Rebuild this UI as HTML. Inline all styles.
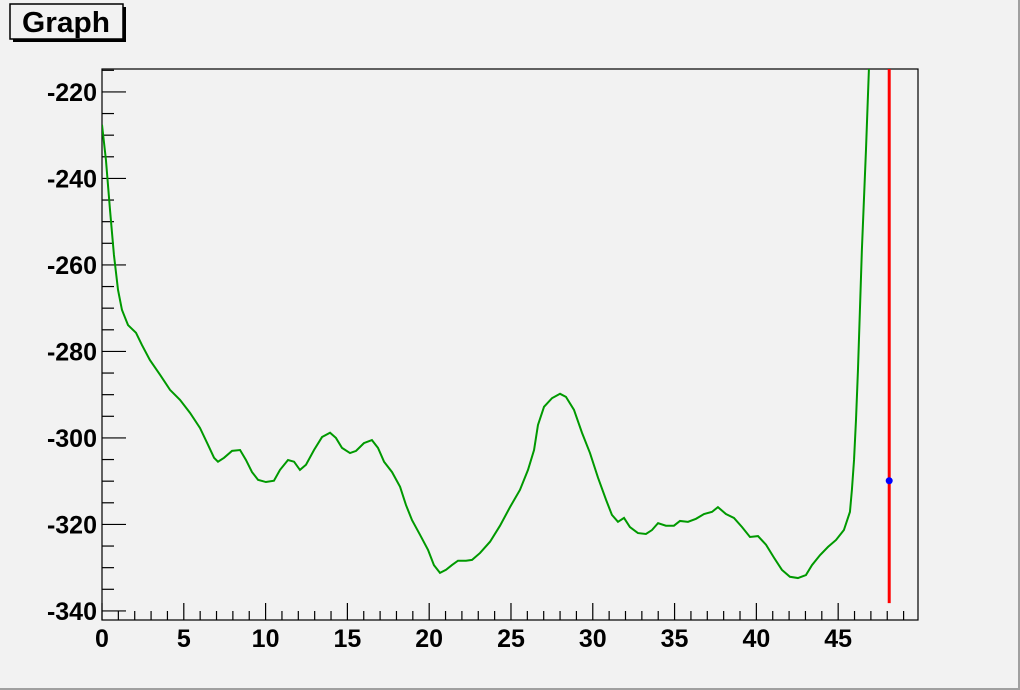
<!DOCTYPE html>
<html><head><meta charset="utf-8"><style>
body{margin:0;background:#f2f2f2;}
svg{display:block;font-family:"Liberation Sans",sans-serif;}
</style></head><body>
<svg id="c" width="1020" height="690">
<rect x="0" y="0" width="1020" height="690" fill="#f2f2f2"/>
<line x1="1019" y1="0" x2="1019" y2="690" stroke="#a0a0a0" stroke-width="2"/>
<line x1="0" y1="689" x2="1020" y2="689" stroke="#a0a0a0" stroke-width="2"/>
<g>
<rect x="13" y="7" width="113" height="35" fill="#000"/>
<rect x="10" y="4" width="113" height="35" fill="#f2f2f2" stroke="#000" stroke-width="1.5"/>
<text x="66" y="32" font-size="29" font-weight="bold" text-anchor="middle" textLength="88" lengthAdjust="spacingAndGlyphs">Graph</text>
</g>
<rect x="102" y="69" width="816" height="551" fill="none" stroke="#000" stroke-width="1.2"/>
<g id="axes"></g>
<g id="marks"></g>
</svg>
<script>
const xs=[0,0.24,0.49,0.73,0.98,1.22,1.59,2.08,2.44,2.93,3.55,4.16,4.77,5.38,5.99,6.48,6.85,7.09,7.46,7.95,8.44,8.80,9.17,9.54,10.02,10.51,10.88,11.37,11.74,12.10,12.47,12.96,13.45,13.94,14.30,14.67,15.16,15.53,16.01,16.50,16.87,17.24,17.73,18.22,18.58,18.95,19.44,19.93,20.29,20.66,21.03,21.39,21.76,22.25,22.62,23.11,23.72,24.33,24.94,25.55,26.04,26.41,26.65,27.02,27.51,28.00,28.36,28.85,29.34,29.83,30.32,30.81,31.17,31.54,31.91,32.27,32.76,33.25,33.62,33.99,34.47,34.96,35.33,35.82,36.31,36.80,37.29,37.65,38.14,38.63,39.12,39.61,40.10,40.59,41.08,41.56,42.05,42.54,43.03,43.40,43.89,44.38,44.87,45.35,45.72,45.84,45.97,46.09,46.21,46.33,46.45,46.70,46.88];
const ys=[-227.6,-235.7,-247.3,-257.7,-265.8,-270.4,-273.9,-275.7,-278.5,-282.0,-285.4,-288.9,-291.2,-294.2,-297.7,-301.6,-304.6,-305.5,-304.6,-303.0,-302.8,-305.1,-307.9,-309.7,-310.2,-309.9,-307.4,-305.1,-305.5,-307.4,-306.2,-302.8,-299.8,-298.8,-300.0,-302.3,-303.5,-303.0,-301.2,-300.5,-302.3,-305.5,-307.9,-311.3,-315.5,-319.0,-322.4,-325.9,-329.4,-331.2,-330.5,-329.4,-328.4,-328.4,-328.2,-326.6,-324.0,-320.3,-316.0,-312.0,-307.4,-302.8,-297.0,-292.8,-290.8,-289.8,-290.5,-293.5,-298.8,-303.5,-309.2,-314.3,-317.8,-319.4,-318.5,-320.6,-322.0,-322.2,-321.3,-319.7,-320.3,-320.3,-319.2,-319.4,-318.7,-317.6,-317.1,-316.0,-317.6,-318.5,-320.6,-322.9,-322.7,-324.7,-327.7,-330.5,-332.1,-332.4,-331.7,-329.4,-327.1,-325.2,-323.6,-321.3,-317.1,-312.0,-305.1,-295.8,-284.3,-270.4,-256.5,-233.4,-214.7];
const xTicks=[0,5,10,15,20,25,30,35,40,45];
const yTicks=[-220,-240,-260,-280,-300,-320,-340];
const errX=[48.12], errLow=[-338.2], errHigh=[-214.7], ptY=[-309.9];
const X0=102,X1=918,Y0=620,Y1=69, xmin=0,xmax=49.88, ymin=-342.1,ymax=-214.7;
const sx=v=>X0+(v-xmin)/(xmax-xmin)*(X1-X0);
const sy=v=>Y0-(v-ymin)/(ymax-ymin)*(Y0-Y1);
const NS='http://www.w3.org/2000/svg';
const ax=document.getElementById('axes'), mk=document.getElementById('marks');
function mkEl(t,a,p){const e=document.createElementNS(NS,t);for(const k in a)e.setAttribute(k,a[k]);p.appendChild(e);return e;}
for(let v=0;v<=49;v++){const maj=v%5===0;const l=mkEl('line',{x1:sx(v),x2:sx(v),y1:Y0,y2:Y0-(maj?17:9),stroke:'#000','stroke-width':1.2},ax);

}
xTicks.forEach(v=>{const t=mkEl('text',{x:sx(v),y:Y0+27,'font-size':25,'font-weight':'bold','text-anchor':'middle'},ax);t.textContent=v;

});
for(let v=-340;v<=-215;v+=5){const maj=v%20===0;const l=mkEl('line',{x1:X0,x2:X0+(maj?24:12),y1:sy(v),y2:sy(v),stroke:'#000','stroke-width':1.2},ax);

}
yTicks.forEach(v=>{const t=mkEl('text',{x:X0-5,y:sy(v)+9,'font-size':25,'font-weight':'bold','text-anchor':'end'},ax);t.textContent=v;

});
const cp=mkEl('clipPath',{id:'cl'},ax);mkEl('rect',{x:X0,y:Y1,width:X1-X0,height:Y0-Y1},cp);
const pl=mkEl('polyline',{points:xs.map((x,i)=>sx(x)+','+sy(ys[i])).join(' '),fill:'none',stroke:'#009900','stroke-width':2,'clip-path':'url(#cl)'},mk);


errX.forEach((x,i)=>{const l=mkEl('line',{x1:sx(x),x2:sx(x),y1:sy(errLow[i]),y2:sy(errHigh[i]),stroke:'#ff0000','stroke-width':3},mk);


const c=mkEl('circle',{cx:sx(x),cy:sy(ptY[i]),r:3.5,fill:'#0000ff'},mk);

});
</script>
</body></html>
